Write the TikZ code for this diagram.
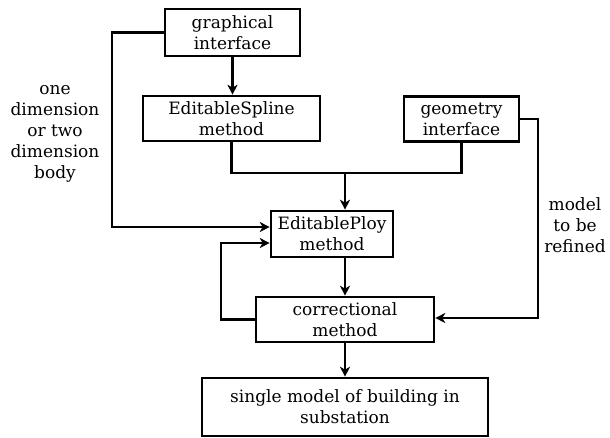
\documentclass[tikz,border=0pt]{standalone}
\usepackage{fontspec}
\setmainfont{DejaVu Serif}
\usetikzlibrary{arrows.meta}

\begin{document}
\begin{tikzpicture}[x=1pt,y=-1pt,
    box/.style={draw,line width=2.6pt,align=center,inner sep=0pt,
        font=\fontsize{17}{21}\selectfont},
    arr/.style={line width=2.6pt,-{Stealth[length=10pt,width=10pt,inset=3pt]}},
    lbl/.style={align=center,font=\fontsize{17}{21}\selectfont}]
    \useasboundingbox (0,0) rectangle (610,437);

    % Boxes
    \node[box,minimum width=135,minimum height=47] (graph) at (232.5,32.5) {graphical\\interface};
    \node[box,minimum width=177,minimum height=45] (spline) at (231.5,118.5) {EditableSpline\\method};
    \node[box,minimum width=115,minimum height=45] (geom) at (461.5,119) {geometry\\interface};
    \node[box,minimum width=122,minimum height=46] (ploy) at (332,234) {EditablePloy\\method};
    \node[box,minimum width=178,minimum height=45] (corr) at (345,319.5) {correctional\\method};
    \node[box,minimum width=286,minimum height=58] (single) at (345,407) {single model of building in\\substation};

    % Side labels
    \node[lbl] (dim) at (55,134) {one\\dimension\\or two\\dimension\\body};
    \node[lbl] (refine) at (575,225) {model\\to be\\refined};

    % Turning points
    \coordinate (join) at (345,173);
    \coordinate (lft) at (112,227);
    \coordinate (loop) at (221,243);
    \coordinate (rgt) at (538,318);

    % Connectors
    \draw[arr] (graph) -- (graph |- spline.north);
    \draw[line width=2.6pt] (spline.south) |- (join);
    \draw[line width=2.6pt] (geom.south) |- (join);
    \draw[arr] (join) -- (join |- ploy.north);
    \draw[arr] (graph.west) -| (lft) -- (lft -| ploy.west);
    \draw[arr] (join |- ploy.south) -- (join |- corr.north);
    \draw[arr] (corr.west) -| (loop) -- (loop -| ploy.west);
    \draw[arr] (geom.east) -| (rgt) -- (rgt -| corr.east);
    \draw[arr] (corr.south) -- (single.north);
\end{tikzpicture}
\end{document}
